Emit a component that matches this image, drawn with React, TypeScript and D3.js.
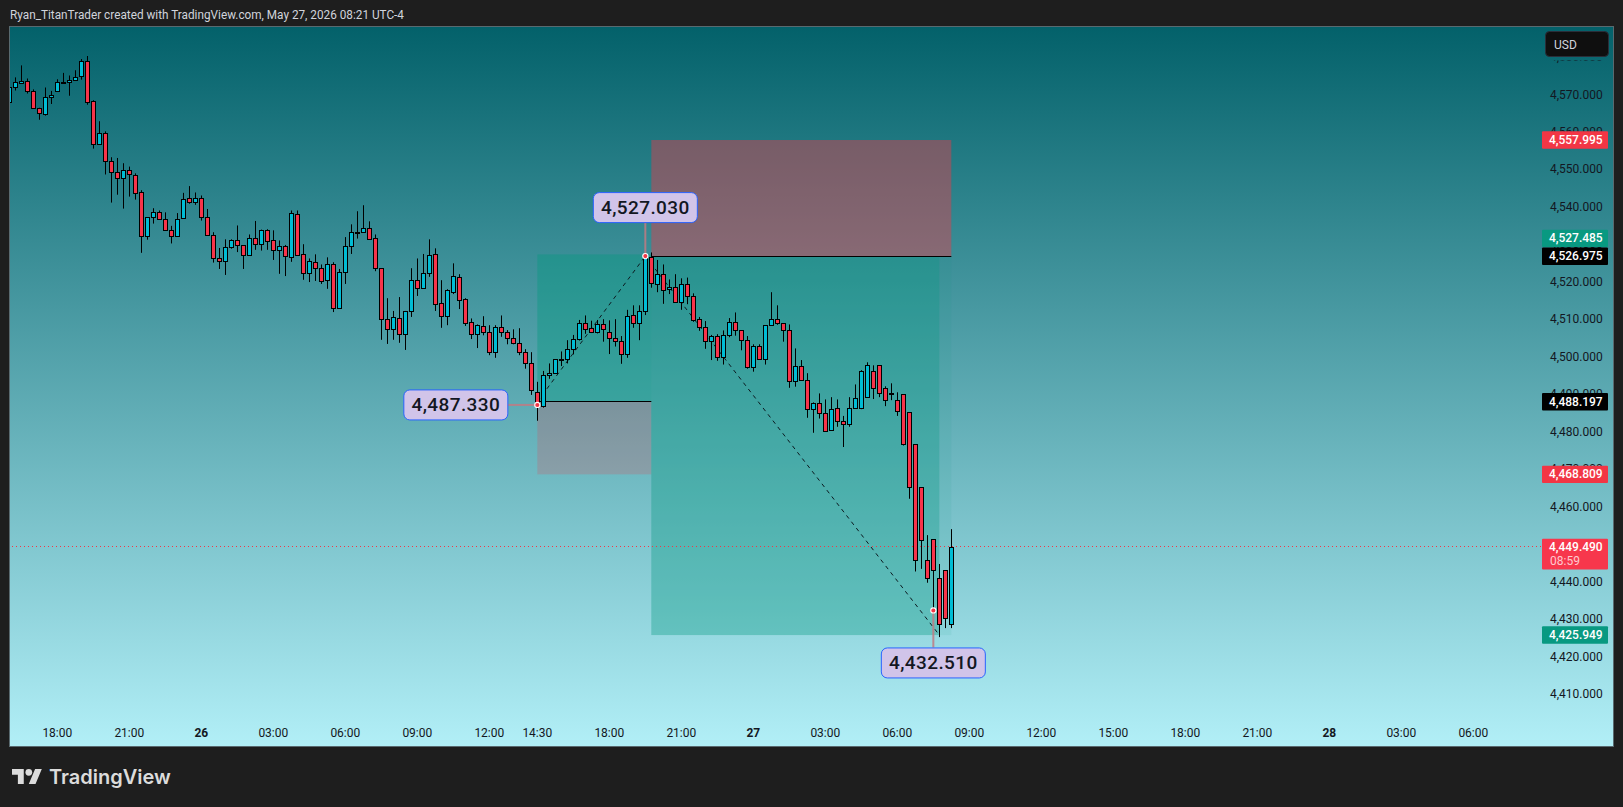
import React from "react";
import * as d3 from "d3";

const opens = [4568.2,4572.2,4573.3,4573.8,4571.2,4566.6,4565.0,4569.4,4571.2,4573.5,4573.4,4574.1,4575.0,4579.2,4568.3,4556.8,4559.8,4552.3,4549.4,4547.9,4549.9,4548.6,4544.0,4532.5,4537.4,4538.7,4536.8,4534.1,4532.3,4537.1,4542.4,4541.4,4542.4,4537.4,4532.6,4526.4,4525.6,4529.4,4531.2,4529.9,4527.2,
4531.8,4530.3,4533.9,4531.2,4528.6,4529.6,4526.9,4538.2,4527.5,4522.4,4525.4,4523.8,4520.6,4524.8,4513.1,4522.7,4529.6,4533.3,4533.4,4534.4,4531.8,4523.8,4510.2,4507.5,4510.4,4506.2,4512.3,4520.6,4518.4,4522.4,4527.5,4514.4,4511.0,4517.5,4521.4,4515.5,4509.4,4506.2,4508.3,4506.7,4501.4,4508.0,4506.7,4505.1,4503.8,4501.4,4498.4,
4490.9,4487.1,4495.2,4495.9,4499.4,4499.5,4502.2,4504.8,4509.1,4507.8,4506.7,4508.8,4506.7,4505.1,4504.3,4500.8,4511.2,4509.1,4512.3,4526.7,4519.5,4522.2,4518.3,4518.7,4514.9,4519.5,4516.3,
4510.2,4508.0,4504.3,4505.6,4500.0,4505.9,4509.4,4507.2,4504.6,4497.4,4503.0,4499.5,4508.6,4510.2,4509.1,4507.2,4493.6,4497.6,4493.9,4486.2,4487.8,4485.1,4480.6,4486.4,4483.0,4482.2,4486.4,4486.4,4489.4,4496.3,4497.9,4491.8,4490.4,4488.6,4490.2,
4485.4,4476.8,4465.4,4445.9,4451.5,4441.1,4443.2,4428.8,4430.4];
const highs = [4572.4,4574.7,4577.9,4574.4,4571.5,4566.6,4572.0,4571.1,4574.2,4575.9,4575.2,4576.6,4579.6,4580.4,4568.6,4563.0,4560.3,4553.4,4553.2,4551.8,4550.9,4549.1,4544.6,4537.4,4539.8,4539.2,4538.7,4535.1,4538.5,4543.9,4545.7,4544.0,4543.2,4539.6,4533.4,4529.2,4531.5,4531.5,4535.2,4529.9,4532.8,
4536.4,4534.1,4534.2,4533.9,4531.2,4530.0,4539.2,4539.2,4530.2,4526.4,4527.5,4524.8,4526.7,4525.4,4523.6,4532.1,4535.5,4539.0,4540.6,4536.3,4532.8,4523.8,4515.8,4512.4,4516.1,4512.4,4523.8,4526.4,4527.6,4531.5,4529.1,4520.6,4518.2,4525.1,4522.2,4515.8,4510.4,4508.8,4511.0,4508.6,4508.6,4511.2,4507.3,4507.5,4507.8,4502.2,4501.4,
4493.5,4496.4,4498.4,4499.5,4501.6,4504.6,4506.0,4510.0,4511.2,4509.8,4510.0,4510.2,4509.9,4510.2,4505.7,4512.7,4513.9,4513.9,4527.6,4528.0,4526.0,4524.8,4520.8,4522.2,4521.1,4521.3,4517.1,
4510.8,4509.7,4506.0,4506.2,4507.2,4510.5,4512.0,4507.2,4505.7,4503.5,4503.5,4508.6,4517.4,4513.9,4509.1,4508.8,4502.4,4499.3,4495.8,4488.0,4490.4,4488.8,4489.4,4488.8,4484.4,4489.4,4492.8,4496.6,4498.7,4497.9,4495.5,4492.3,4493.1,4490.7,
4486.4,4477.4,4467.0,4453.4,4452.6,4444.4,4444.9,4437.7,4454.2];
const lows = [4568.0,4571.2,4573.1,4570.4,4566.4,4563.4,4564.5,4567.6,4570.9,4573.3,4569.8,4573.8,4574.1,4567.4,4555.7,4556.8,4548.8,4541.3,4543.4,4539.7,4542.9,4542.1,4527.9,4531.4,4535.7,4536.8,4533.8,4530.4,4532.3,4537.1,4541.0,4540.7,4536.5,4532.6,4525.3,4523.6,4522.0,4529.0,4528.1,4523.6,4527.2,
4528.7,4528.5,4528.7,4526.0,4522.3,4521.7,4525.5,4527.1,4520.7,4520.1,4520.4,4519.6,4518.3,4512.1,4513.1,4519.6,4527.6,4531.7,4533.4,4531.7,4523.0,4504.7,4503.6,4504.7,4503.9,4502.0,4510.8,4516.4,4518.4,4521.5,4512.4,4507.9,4508.6,4516.9,4512.9,4508.4,4504.9,4502.5,4505.9,4500.6,4499.9,4505.5,4503.5,4503.5,4500.6,4497.0,4490.0,
4483.1,4486.6,4494.3,4495.9,4497.7,4498.4,4500.8,4504.5,4506.3,4506.5,4506.4,4504.2,4500.9,4502.9,4498.3,4499.9,4507.9,4504.6,4511.3,4518.6,4517.4,4514.3,4516.9,4514.9,4512.7,4514.2,4509.5,
4507.1,4502.3,4499.3,4499.1,4498.1,4505.4,4505.8,4501.9,4497.0,4496.2,4499.5,4498.1,4508.6,4508.7,4504.2,4491.9,4492.2,4493.9,4483.9,4479.9,4483.7,4480.3,4480.6,4481.5,4476.1,4481.5,4486.4,4486.2,4492.8,4488.9,4489.4,4487.0,4488.6,4484.4,
4476.5,4462.3,4442.9,4443.6,4439.9,4432.6,4425.4,4427.8,4427.8];
const closes = [4572.2,4573.6,4573.8,4571.2,4566.6,4565.1,4569.4,4570.1,4573.6,4573.6,4574.1,4574.9,4579.2,4568.2,4556.8,4559.8,4552.3,4549.4,4547.9,4549.9,4548.8,4543.9,4532.5,4537.4,4538.7,4536.8,4534.1,4532.3,4536.8,4542.2,4541.4,4542.4,4537.4,4532.6,4526.4,4525.6,4529.4,4531.2,4529.9,4527.2,4531.8,
4530.3,4533.9,4531.0,4528.6,4529.6,4527.0,4538.4,4527.4,4522.4,4525.6,4523.8,4520.5,4524.8,4513.1,4522.7,4529.6,4533.4,4533.5,4534.4,4531.7,4523.8,4510.2,4507.5,4510.7,4506.2,4512.3,4520.6,4518.4,4522.4,4527.2,4514.2,4511.0,4517.9,4521.6,4515.4,4509.3,4506.2,4508.6,4506.7,4501.4,4508.0,4506.7,4505.1,4503.8,4501.4,4498.4,4491.2,
4487.1,4495.2,4495.9,4499.5,4499.6,4502.2,4504.8,4509.1,4507.7,4506.7,4508.8,4507.5,4505.1,4504.3,4500.8,4511.0,4509.1,4512.3,4526.7,4519.8,4522.2,4517.9,4518.7,4514.9,4519.5,4516.3,4510.1,
4508.0,4504.3,4505.6,4500.0,4505.9,4509.4,4507.2,4504.6,4497.4,4503.0,4499.5,4508.6,4510.2,4509.1,4507.2,4493.6,4497.6,4493.9,4486.2,4487.8,4485.1,4480.3,4486.2,4483.0,4482.2,4486.4,4489.1,4496.3,4497.9,4491.8,4490.4,4488.6,4490.2,4485.6,
4476.8,4465.4,4445.9,4451.2,4441.1,4443.2,4428.8,4430.4,4449.4];

const yTicks = [4580,4570,4560,4550,4540,4530,4520,4510,4500,4490,4480,4470,4460,4450,4440,4430,4420,4410];
const xTickBars = [8,20,32,44,56,68,80,88,100,112,124,136,148,160,172,184,196,208,220,232,244];
const xTickLabels = ["18:00","21:00","26","03:00","06:00","09:00","12:00","14:30","18:00","21:00","27","03:00","06:00","09:00","12:00","15:00","18:00","21:00","28","03:00","06:00"];
const boldTicks = ["26","27","28"];

const longBars = [88,107];
const longPrices = { target: 4527.485, entry: 4488.197, stop: 4468.809 };
const shortBars = [107,157,155];
const shortPrices = { stop: 4557.995, entry: 4526.975, target: 4425.949 };
const lastPrice = 4449.49;
const countdown = "08:59";
const pivots = [
  { bar: 88, price: 4487.33, text: "4,487.330", side: "left" },
  { bar: 106, price: 4527.03, text: "4,527.030", side: "top" },
  { bar: 154, price: 4432.51, text: "4,432.510", side: "bottom" },
];
const priceTags = [
  { price: 4557.995, color: "#f23645" },
  { price: 4531.75, text: 4527.485, color: "#089981" },
  { price: 4526.975, color: "#000000" },
  { price: 4488.197, color: "#000000" },
  { price: 4468.809, color: "#f23645" },
  { price: 4425.949, color: "#089981" },
];

const W = 1623, H = 807;
const L = 10, T = 27, R = 1613, B = 746;
const UP = "#00bcd4", DOWN = "#f7344a";
const FONT = "Roboto, sans-serif";

const x = d3.scaleLinear().domain([0, 244]).range([9.33, 1473.33]);
const y = d3.scaleLinear().domain([4570, 4410]).range([95, 694.84]);
const fmt = d3.format(",.3f");
const snap = (v: number) => Math.floor(v) + 0.5;

export default function App() {
  const bars = d3.range(opens.length);
  const lx0 = x(longBars[0]), lx1 = x(longBars[1]);
  const sx0 = x(shortBars[0]), sx1 = x(shortBars[1]), sx2 = x(shortBars[2]);
  const line = d3.line<[number, number]>().x(d => d[0]).y(d => d[1]);
  return (
    <svg width={W} height={H} viewBox={`0 0 ${W} ${H}`}
      style={{ position: "fixed", left: 0, top: 0, display: "block", background: "#1e1e1e" }}>
      <defs>
        <linearGradient id="bg" x1="0" y1="0" x2="0" y2="1">
          <stop offset="0" stopColor="#03616a" />
          <stop offset="1" stopColor="#b2eff7" />
        </linearGradient>
        <clipPath id="plot"><rect x={L} y={T} width={R - L} height={B - T} /></clipPath>
        <clipPath id="axis"><rect x={L} y={60.5} width={R - L} height={B - 60.5} /></clipPath>
      </defs>
      <text x={10} y={19} fontFamily={FONT} fontSize={12} fill="#d1d4dc" textLength={394} lengthAdjust="spacingAndGlyphs">
        Ryan_TitanTrader created with TradingView.com, May 27, 2026 08:21 UTC-4
      </text>
      <rect x={L - 0.5} y={T - 0.5} width={R - L + 1} height={B - T + 1} fill="url(#bg)" stroke="#596a70" />

      {/* position tools */}
      <g clipPath="url(#plot)">
        <rect x={lx0} y={y(longPrices.target)} width={lx1 - lx0} height={y(longPrices.entry) - y(longPrices.target)} fill="#089981" fillOpacity={0.42} />
        <rect x={lx0} y={y(longPrices.entry)} width={lx1 - lx0} height={y(longPrices.stop) - y(longPrices.entry)} fill="#f23645" fillOpacity={0.2} />
        <rect x={sx0} y={y(shortPrices.stop)} width={sx1 - sx0} height={y(shortPrices.entry) - y(shortPrices.stop)} fill="#f23645" fillOpacity={0.42} />
        <rect x={sx0} y={y(shortPrices.entry)} width={sx1 - sx0} height={y(shortPrices.target) - y(shortPrices.entry)} fill="#089981" fillOpacity={0.08} />
        <rect x={sx0} y={y(shortPrices.entry)} width={sx2 - sx0} height={y(shortPrices.target) - y(shortPrices.entry)} fill="#089981" fillOpacity={0.3} />
        <line x1={lx0} x2={lx1} y1={snap(y(longPrices.entry))} y2={snap(y(longPrices.entry))} stroke="#000" />
        <line x1={sx0} x2={sx1} y1={snap(y(shortPrices.entry))} y2={snap(y(shortPrices.entry))} stroke="#000" />
        <path d={line([[lx0, y(longPrices.entry)], [x(106), y(pivots[1].price)]]) ?? ""} fill="none" stroke="#0b1a20" strokeDasharray="4 4" />
        <path d={line([[x(106), y(shortPrices.entry)], [sx2, y(shortPrices.target)]]) ?? ""} fill="none" stroke="#0b1a20" strokeDasharray="4 4" />
        <line x1={0} x2={1542} y1={snap(y(lastPrice))} y2={snap(y(lastPrice))} stroke="#f23645" strokeDasharray="1 3" />

        {/* candles */}
        {bars.map(i => {
          const c = snap(x(i));
          const up = closes[i] >= opens[i];
          const top = Math.round(y(Math.max(opens[i], closes[i]))) + 0.5;
          const bot = Math.max(top + 1, Math.round(y(Math.min(opens[i], closes[i]))) + 0.5);
          return (
            <g key={i}>
              <line x1={c} x2={c} y1={y(highs[i])} y2={y(lows[i])} stroke="#000" />
              <rect x={c - 2} y={top} width={4} height={bot - top} fill={up ? UP : DOWN} stroke="#000" />
            </g>
          );
        })}

        {/* pivot labels */}
        {pivots.map(p => {
          const px = x(p.bar), py = y(p.price);
          const w = 104, h = 30;
          let bx = px - w / 2 - 0.5, by = py - h - 34;
          let stem: [number, number, number, number] = [px, py, px, by + h];
          if (p.side === "left") { bx = px - 30 - w; by = py - 15.5; stem = [px, py, bx + w, py]; }
          if (p.side === "bottom") { bx = px - 52.5; by = py + 37; stem = [px, py, px, by]; }
          return (
            <g key={p.bar}>
              <line x1={stem[0]} y1={stem[1]} x2={stem[2]} y2={stem[3]} stroke="#c07a82" strokeOpacity={0.85} strokeWidth={2} />
              <circle cx={px} cy={py} r={2.6} fill="#f23645" stroke="#fff" strokeWidth={1.1} />
              <rect x={bx + 0.5} y={by + 0.5} width={w} height={h} rx={6} fill="#d1c4e9" stroke="#2962ff" />
              <text x={bx + w / 2 + 0.5} y={by + h / 2 + 7} textAnchor="middle" fontFamily={FONT} fontWeight={500} fontSize={19} letterSpacing={0.4} fill="#131722">{p.text}</text>
            </g>
          );
        })}

        {/* y axis */}
        <g clipPath="url(#axis)">
          {yTicks.map(t => (
            <text key={t} x={1602.7} y={y(t) + 3.5} textAnchor="end" fontFamily={FONT} fontSize={12} fill="#131722">{fmt(t)}</text>
          ))}
        </g>
        {/* x axis */}
        {xTickBars.map((b, i) => (
          <text key={i} x={x(b)} y={737} textAnchor="middle" fontFamily={FONT} fontSize={12}
            fontWeight={boldTicks.includes(xTickLabels[i]) ? 700 : 400} fill="#131722">{xTickLabels[i]}</text>
        ))}

        {/* price tags */}
        {priceTags.map((t, i) => {
          const cy = y(t.price);
          return (
            <g key={i}>
              <rect x={1542} y={cy - 8.7} width={66} height={17.4} rx={1} fill={t.color} />
              <text x={1602.7} y={cy + 4} textAnchor="end" fontFamily={FONT} fontWeight={500} fontSize={12} fill="#fff">{fmt(t.text ?? t.price)}</text>
            </g>
          );
        })}
        <rect x={1542} y={y(lastPrice) - 8} width={66} height={30.7} rx={1} fill="#f7374c" />
        <text x={1602.7} y={y(lastPrice) + 4} textAnchor="end" fontFamily={FONT} fontWeight={500} fontSize={12} fill="#fff">{fmt(lastPrice)}</text>
        <text x={1550} y={y(lastPrice) + 18} fontFamily={FONT} fontSize={12} fill="#ffc9cf">{countdown}</text>

        {/* currency */}
        <rect x={1545.5} y={31.5} width={63} height={25} rx={4} fill="#0f0f0f" stroke="#2a2e39" />
        <text x={1554} y={48.5} fontFamily={FONT} fontSize={12} fill="#d1d4dc">USD</text>
      </g>

      {/* logo */}
      <g transform="translate(12,765.6) scale(0.84)" fill="#dcdcdc">
        <path d="M14 22H7V11H0V4h14v18zM28 22h-8l7.5-18h8L28 22z" />
        <circle cx="20" cy="8" r="4" />
      </g>
      <text x={49} y={784} fontFamily="Inter, sans-serif" fontWeight={600} fontSize={20} fill="#dcdcdc">TradingView</text>
    </svg>
  );
}
